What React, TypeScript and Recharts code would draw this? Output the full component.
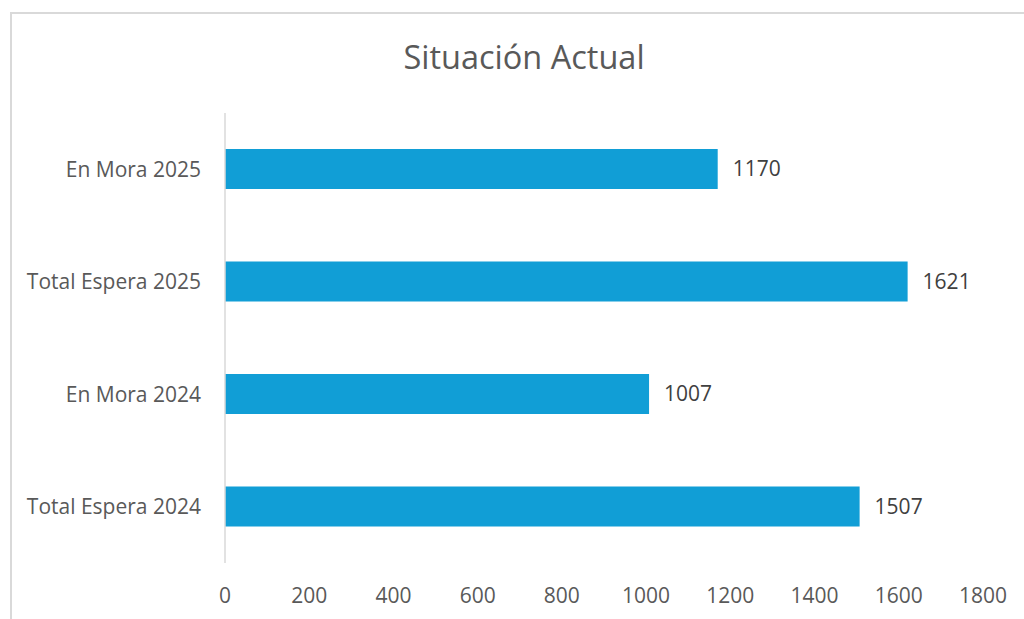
import React from 'react';
import { BarChart, Bar, XAxis, YAxis, LabelList } from 'recharts';

// Categories listed top to bottom
const categories = ['En Mora 2025', 'Total Espera 2025', 'En Mora 2024', 'Total Espera 2024'];
const values = [1170, 1621, 1007, 1507];
const xTicks = [0, 200, 400, 600, 800, 1000, 1200, 1400, 1600, 1800];

const data = categories.map((name, i) => ({ name, value: values[i] }));

const FONT = '"Open Sans", sans-serif';
const TEXT = '#595959';

export default function App() {
  return (
    <div style={{ position: 'fixed', left: 0, top: 0, width: 1024, height: 619, background: '#fff', overflow: 'hidden', fontFamily: FONT }}>
      <div style={{ position: 'absolute', left: 10, top: 12, width: 1040, height: 640, border: '2px solid #d9d9d9', boxSizing: 'border-box' }} />
      <div style={{ position: 'absolute', left: 324, width: 400, top: 32, textAlign: 'center', fontSize: 32.5, lineHeight: '50px', color: TEXT }}>
        Situación Actual
      </div>
      <div style={{ position: 'absolute', left: 0, top: 0 }}>
        <BarChart
          width={1024}
          height={619}
          layout="vertical"
          data={data}
          margin={{ top: 113, right: 41, bottom: 16, left: 0 }}
          style={{ fontFamily: FONT }}
        >
          <XAxis
            type="number"
            domain={[0, 1800]}
            ticks={xTicks}
            axisLine={false}
            tickLine={false}
            tickSize={0}
            tickMargin={25}
            height={40}
            interval={0}
            tick={{ fill: TEXT, fontSize: 21, fontFamily: FONT }}
          />
          <YAxis
            type="category"
            dataKey="name"
            width={225}
            axisLine={{ stroke: '#d9d9d9', strokeWidth: 1.5 }}
            tickLine={false}
            tickSize={0}
            tickMargin={24}
            interval={0}
            tick={{ fill: TEXT, fontSize: 21, fontFamily: FONT }}
          />
          <Bar dataKey="value" fill="#119ed6" barSize={40} isAnimationActive={false}>
            <LabelList dataKey="value" position="right" offset={15} fill="#404040" fontSize={21} fontFamily={FONT} />
          </Bar>
        </BarChart>
      </div>
    </div>
  );
}
